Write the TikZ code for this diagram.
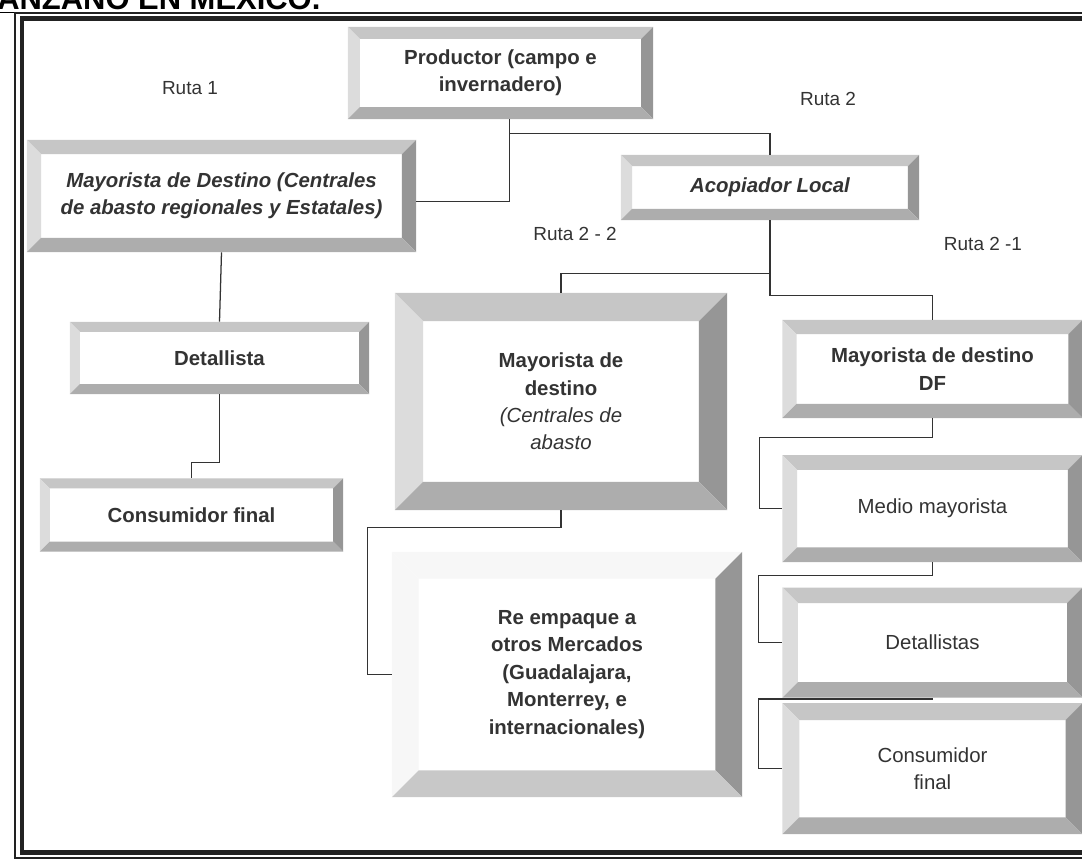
\documentclass[tikz,border=0pt]{standalone}
\usepackage{fontspec}
\setmainfont{Liberation Sans}
\usetikzlibrary{positioning}

\definecolor{ink}{HTML}{333333}
\definecolor{rim}{HTML}{222222}
\definecolor{bvTop}{HTML}{C6C6C6}
\definecolor{bvLeft}{HTML}{DCDCDC}
\definecolor{bvRight}{HTML}{969696}
\definecolor{bvBottom}{HTML}{ADADAD}
\definecolor{bvPale}{HTML}{F7F7F7}
\definecolor{bvSoft}{HTML}{C8C8C8}

\tikzset{
  bevel width/.store in=\bvw, bevel width=8pt,
  bevel top/.store in=\bvtop, bevel top=bvTop,
  bevel left/.store in=\bvleft, bevel left=bvLeft,
  bevel right/.store in=\bvright, bevel right=bvRight,
  bevel bottom/.store in=\bvbottom, bevel bottom=bvBottom,
  bevelbox/.style={rectangle, fill=white, inner sep=0pt, align=center, text=ink,
    font=\fontsize{14.5}{19.5}\selectfont,
    path picture={
      \path (path picture bounding box.north west) coordinate (bvNW)
            (path picture bounding box.north east) coordinate (bvNE)
            (path picture bounding box.south west) coordinate (bvSW)
            (path picture bounding box.south east) coordinate (bvSE);
      \path ([shift={(\bvw,-\bvw)}]bvNW) coordinate (bvnw)
            ([shift={(-\bvw,-\bvw)}]bvNE) coordinate (bvne)
            ([shift={(\bvw,\bvw)}]bvSW) coordinate (bvsw)
            ([shift={(-\bvw,\bvw)}]bvSE) coordinate (bvse);
      \fill[\bvtop] (bvNW) -- (bvNE) -- (bvne) -- (bvnw) -- cycle;
      \fill[\bvleft] (bvNW) -- (bvnw) -- (bvsw) -- (bvSW) -- cycle;
      \fill[\bvright] (bvNE) -- (bvSE) -- (bvse) -- (bvne) -- cycle;
      \fill[\bvbottom] (bvSW) -- (bvsw) -- (bvse) -- (bvSE) -- cycle;
    }},
  strong/.style={font=\fontsize{14.5}{19.5}\selectfont\bfseries},
  strongit/.style={font=\fontsize{14.5}{19.5}\selectfont\bfseries\itshape},
  ruta/.style={text=ink, font=\fontsize{13.5}{16}\selectfont, anchor=base},
  conn/.style={draw=ink, line width=0.9pt},
}

\begin{document}
\begin{tikzpicture}[x=0.025cm, y=-0.025cm]

\useasboundingbox (0,0) rectangle (1082,860);
\clip (0,0) rectangle (1082,860);

% title and frame
\node[anchor=base west, inner sep=0pt, font=\fontsize{22}{25}\selectfont\bfseries] (title) at (-3,10) {\underline{ANZANO EN MEXICO.}};
\draw[rim, line width=1pt] (15,13) rectangle (1110,858);
\draw[rim, line width=3.5pt] (22,18.5) rectangle (1104,852.5);

% Nodes
\node[bevelbox, strong, bevel width=8.5pt, minimum width=7.625cm, minimum height=2.3cm] (prod) at (500.5,73) {Productor (campo e\\invernadero)};
\node[bevelbox, strongit, bevel width=10pt, minimum width=9.725cm, minimum height=2.8cm] (maydest) at (221.5,196) {Mayorista de Destino (Centrales\\de abasto regionales y Estatales)};
\node[bevelbox, strongit, bevel width=8pt, minimum width=7.45cm, minimum height=1.625cm] (acop) at (770,187.5) {Acopiador Local};
\node[bevelbox, strong, bevel width=7pt, minimum width=7.475cm, minimum height=1.8cm] (det) at (219.5,358) {Detallista};
\node[bevelbox, strong, bevel width=7pt, minimum width=7.575cm, minimum height=1.825cm] (consL) at (191.5,515) {Consumidor final};
\node[bevelbox, strong, bevel width=20pt, minimum width=8.3cm, minimum height=5.425cm] (cent) at (561,401.5) {Mayorista de\\destino\\{\mdseries\itshape (Centrales de}\\{\mdseries\itshape abasto}};
\node[bevelbox, strong, bevel width=19pt, bevel top=bvPale, bevel left=bvPale, bevel bottom=bvSoft, minimum width=8.75cm, minimum height=6.125cm] (reemp) at (567,674.5) {Re empaque a\\otros Mercados\\(Guadalajara,\\Monterrey, e\\internacionales)};
\node[bevelbox, strong, bevel width=10pt, minimum width=7.5cm, minimum height=2.45cm] (df) at (932.5,369) {Mayorista de destino\\DF};
\node[bevelbox, bevel width=10.5pt, minimum width=7.5cm, minimum height=2.675cm, below=26pt of df] (medio) {Medio mayorista};
\node[bevelbox, bevel width=11pt, minimum width=7.5cm, minimum height=2.75cm, below=17.7pt of medio] (dets) {Detallistas};
\node[bevelbox, bevel width=12pt, minimum width=7.5cm, minimum height=3.275cm, below=3.5pt of dets] (consR) {Consumidor\\final};

% route labels
\node[ruta] (r1) at (190,95) {Ruta 1};
\node[ruta] (r2) at (828,106) {Ruta 2};
\node[ruta] (r22) at (575,240) {Ruta 2 - 2};
\node[ruta] (r21) at (983,250) {Ruta 2 -1};

% Edges
\draw[conn] ([xshift=6.5pt]prod.south) |- ([yshift=-4pt]maydest.east);
\draw[conn] ([xshift=6.5pt]prod.south) -- ++(0,14) -| (acop.north);
\draw[conn] (maydest.south) -- (det.north);
\draw[conn] (det.south) -- ++(0,68) -| (consL.north);
\draw[conn] (acop.south) -- ++(0,53) -| (cent.north);
\draw[conn] (acop.south) -- ++(0,75) -| (df.north);
\draw[conn] (cent.south) -- ++(0,17) -| ([xshift=-17pt]reemp.west) -- (reemp.west);
\draw[conn] (df.south) -- ++(0,19) -| ([xshift=-16.3pt]medio.west) -- (medio.west);
\draw[conn] (medio.south) -- ++(0,13) -| ([xshift=-17pt]dets.west) -- (dets.west);
\draw[conn] (dets.south) -- ++(0,1) -| ([xshift=-17pt]consR.west) -- (consR.west);

\end{tikzpicture}
\end{document}
